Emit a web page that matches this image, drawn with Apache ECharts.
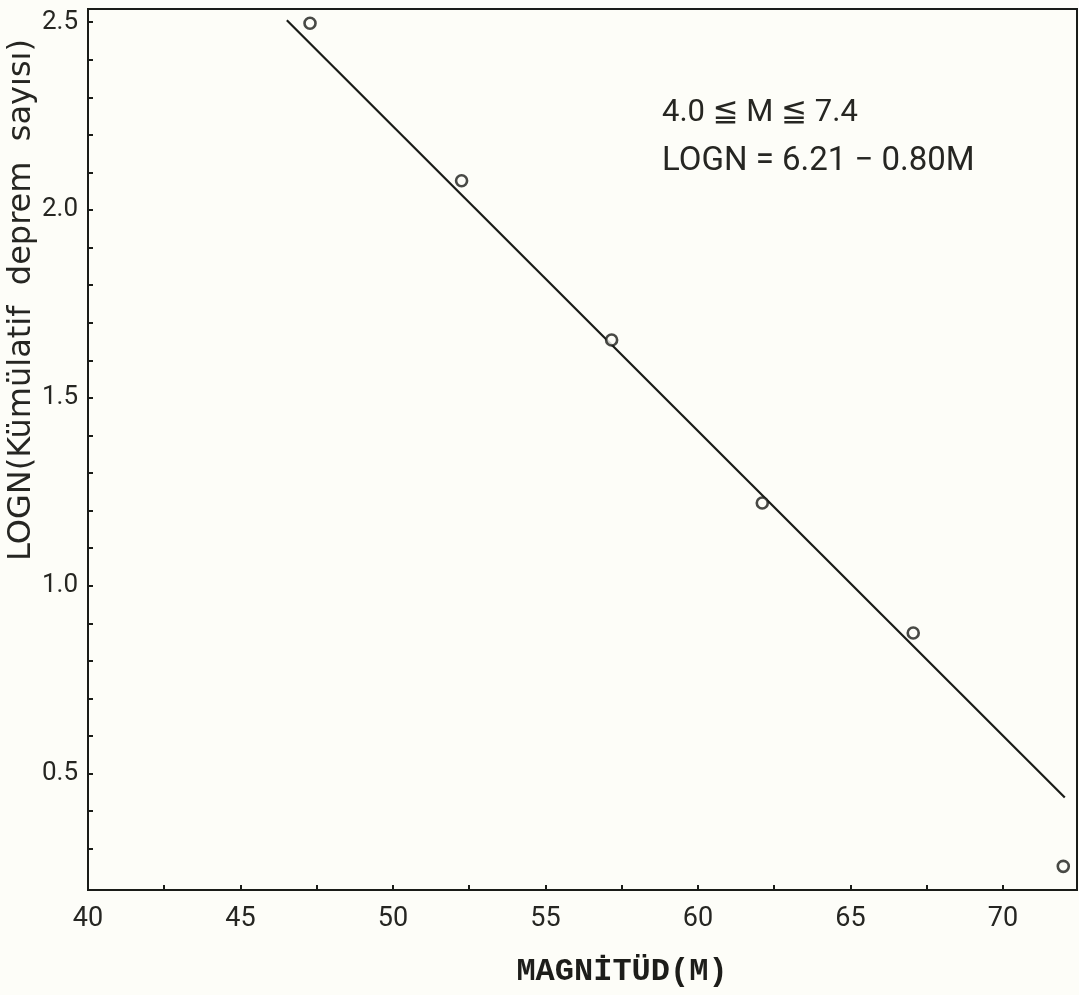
<!DOCTYPE html>
<html>
<head>
<meta charset="utf-8">
<title>LOGN - Magnitüd</title>
<script src="https://cdn.jsdelivr.net/npm/echarts@6/dist/echarts.min.js"></script>
<style>
  html, body { margin: 0; padding: 0; background: #fdfdf8; }
  #chart { width: 1079px; height: 995px; }
</style>
</head>
<body>
<div id="chart"></div>
<script>
  // observed points (magnitude x10, log cumulative count)
  var magnitudes = [47.28, 52.25, 57.17, 62.11, 67.06, 71.98];
  var logN = [2.497, 2.078, 1.654, 1.220, 0.874, 0.253];

  // fitted line LOGN = 6.21 - 0.80M, end points as drawn
  var fitX = [46.52, 72.03];
  var fitY = [2.505, 0.436];

  var xLabelValues = [40, 45, 50, 55, 60, 65, 70];
  var xTickValues = [40, 42.5, 45, 47.5, 50, 52.5, 55, 57.5, 60, 62.5, 65, 67.5, 70];
  var yLabelValues = [0.5, 1.0, 1.5, 2.0, 2.5];
  var yTickValues = [0.3, 0.4, 0.5, 0.6, 0.7, 0.8, 0.9, 1.0, 1.1, 1.2, 1.3, 1.4, 1.5,
                     1.6, 1.7, 1.8, 1.9, 2.0, 2.1, 2.2, 2.3, 2.4, 2.5];

  var ink = '#1a1c18';
  var bg = '#fdfdf8';

  var chart = echarts.init(document.getElementById('chart'));

  var pointData = magnitudes.map(function (m, i) { return [m, logN[i]]; });
  var lineData = fitX.map(function (x, i) { return [x, fitY[i]]; });

  var option = {
    backgroundColor: bg,
    animation: false,
    grid: {
      left: 88,
      right: 2,
      top: 9,
      bottom: 105,
      show: true,
      borderColor: ink,
      borderWidth: 2
    },
    xAxis: {
      type: 'value',
      min: 40,
      max: 72.43,
      splitLine: { show: false },
      axisLine: { lineStyle: { color: ink, width: 2 } },
      axisTick: {
        inside: true,
        length: 5,
        customValues: xTickValues,
        lineStyle: { color: ink, width: 2 }
      },
      axisLabel: {
        customValues: xLabelValues,
        margin: 16,
        color: '#262622',
        fontFamily: 'Roboto, DejaVu Sans, sans-serif',
        fontSize: 27
      }
    },
    yAxis: {
      type: 'value',
      min: 0.19,
      max: 2.535,
      splitLine: { show: false },
      axisLine: { lineStyle: { color: ink, width: 2 } },
      axisTick: {
        inside: true,
        length: 5,
        customValues: yTickValues,
        lineStyle: { color: ink, width: 2 }
      },
      axisLabel: {
        customValues: yLabelValues,
        margin: 10,
        color: '#262622',
        fontFamily: 'Roboto, DejaVu Sans, sans-serif',
        fontSize: 26,
        formatter: function (v) { return v.toFixed(1); }
      }
    },
    graphic: [
      {
        type: 'text',
        x: 22,
        y: 300,
        rotation: Math.PI / 2,
        style: {
          text: 'LOGN(Kümülatif  deprem  sayısı)',
          fill: '#262622',
          font: '32px "DejaVu Sans", sans-serif',
          textAlign: 'center',
          textVerticalAlign: 'middle'
        }
      },
      {
        type: 'text',
        x: 622,
        y: 972,
        style: {
          text: 'MAGNİTÜD(M)',
          fill: '#1d1d1a',
          font: 'bold 32px "Liberation Mono", monospace',
          textAlign: 'center',
          textVerticalAlign: 'middle'
        }
      },
      {
        type: 'text',
        x: 662,
        y: 113,
        style: {
          text: '4.0 ≦ M ≦ 7.4',
          fill: '#262622',
          font: '31px Roboto, "DejaVu Sans", sans-serif',
          textAlign: 'left',
          textVerticalAlign: 'middle'
        }
      },
      {
        type: 'text',
        x: 662,
        y: 162,
        style: {
          text: 'LOGN = 6.21 − 0.80M',
          fill: '#262622',
          font: '33px Roboto, "DejaVu Sans", sans-serif',
          textAlign: 'left',
          textVerticalAlign: 'middle'
        }
      }
    ],
    series: [
      {
        name: 'fit',
        type: 'line',
        data: lineData,
        showSymbol: false,
        lineStyle: { color: ink, width: 2.2 },
        z: 2
      },
      {
        name: 'points',
        type: 'scatter',
        data: pointData,
        symbol: 'circle',
        symbolSize: 11,
        itemStyle: { color: bg, borderColor: ink, borderWidth: 2.6 },
        z: 3
      }
    ]
  };

  chart.setOption(option);
</script>
</body>
</html>
